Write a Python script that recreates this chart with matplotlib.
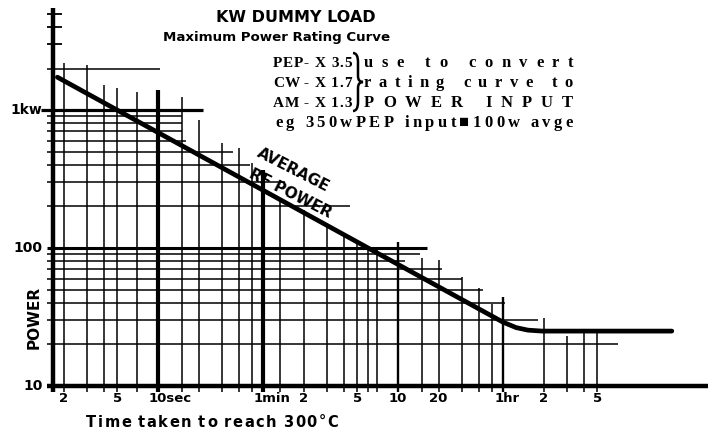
import matplotlib.pyplot as plt
import matplotlib.transforms as mtransforms
from matplotlib.font_manager import FontProperties
from matplotlib.path import Path
from matplotlib.patches import PathPatch

W, H = 708, 429

# rating curve: time to reach 300C (s) against average rf power (W)
curve_time = [1.8, 3600, 4500, 5500, 7000, 64000]
curve_power = [1730, 29, 26.5, 25.4, 25, 25]

# horizontal rulings: power level and the time where each one stops
h_power = [2000, 1000, 900, 800, 700, 600, 500, 400, 300, 200,
           100, 90, 80, 70, 60, 50, 40, 30, 20]
h_end = [10.4, 21.5, 15, 15, 15, 16, 36, 48, 87, 265,
         983, 875, 676, 1270, 1790, 2560, 3720, 6540, 25600]

# vertical rulings: time and the power where each one stops
v_time = [2, 3, 4, 5, 7, 10, 15, 20, 30, 40, 50, 60, 80, 120, 180, 240, 300,
          360, 420, 600, 900, 1200, 1800, 2400, 3000, 3600, 7200, 10800,
          14400, 18000]
v_top = [2190, 2120, 1520, 1440, 1350, 1400, 1240, 848, 577, 531, 413, 367,
         223, 188, 147, 128, 114, 102, 102, 110, 85, 82, 62, 51, 39, 44, 31,
         23, 25, 25]

heavy_v = {10: 3.0, 60: 3.0, 600: 1.7, 3600: 1.7}
heavy_h = {1000: 2.3, 100: 2.2}
axis_ticks = [3000, 4000, 5000]

x_ticks = [2, 5, 10, 60, 120, 300, 600, 1200, 3600, 7200, 18000]
x_labels = ['2', '5', '10sec', '1min', '2', '5', '10', '20', '1hr', '2', '5']
y_ticks = [10, 100, 1000]
y_labels = ['10', '100', '1kw']

factor_names = ['PEP', 'CW', 'AM']
factor_values = ['- X 3.5', '- X 1.7', '- X 1.3']
factor_notes = ['use to convert', 'rating curve to', 'POWER INPUT']
example_note = 'eg 350wPEP input\u25a0100w avge'

fig = plt.figure(figsize=(W / 100, H / 100), dpi=100)
ax = fig.add_axes([53 / W, 43 / H, 655 / W, 378 / H])
ax.set_xscale('log')
ax.set_yscale('log')
ax.set_xlim(1.67, 118600)
ax.set_ylim(10, 5490)
ax.axis('off')

# rulings
for p, t1 in zip(h_power, h_end):
    t0 = 1.35 if p == 1000 else 1.5
    ax.hlines(p, t0, t1, color='black', lw=heavy_h.get(p, 1.1), clip_on=False)
for t, p1 in zip(v_time, v_top):
    ax.vlines(t, 9.05, p1, color='black', lw=heavy_v.get(t, 1.1), clip_on=False)
for p in axis_ticks:
    ax.hlines(p, 1.5, 1.95, color='black', lw=1.3, clip_on=False)

# axes lines
ax.vlines(1.68, 9.0, 5490, color='black', lw=3.2, clip_on=False)
ax.hlines(10, 1.5, 118600, color='black', lw=3.2, clip_on=False)

# the rating curve
ax.plot(curve_time, curve_power, color='black', lw=3.4,
        solid_capstyle='round', solid_joinstyle='round')

# tick labels
bold = dict(family='DejaVu Sans', weight='bold', color='black')
xt = ax.get_xaxis_transform()
for t, lab in zip(x_ticks, x_labels):
    if lab[-1].isalpha():
        tr = mtransforms.offset_copy(xt, fig, x=-9, units='dots')
        ax.text(t, -0.032, lab, transform=tr, ha='left', va='center',
                fontsize=9.5, **bold)
    else:
        ax.text(t, -0.032, lab, transform=xt, ha='center', va='center',
                fontsize=9.5, **bold)
yt = ax.get_yaxis_transform()
for p, lab in zip(y_ticks, y_labels):
    ax.text(-0.016, p, lab, transform=yt, ha='right', va='center',
            fontsize=10, **bold)


def px(x, y):
    return x / W, 1 - y / H


SERIF = ['Liberation Serif', 'DejaVu Sans']


def spaced(x, y, s, width, size, family=SERIF, weight='bold'):
    # draw text char by char, stretched to the given pixel width
    r = fig.canvas.get_renderer()
    fp = FontProperties(family=family, size=size, weight=weight)
    ws = []
    for c in s:
        if c == ' ':
            ws.append(0.25 * size * 100 / 72)
        else:
            ws.append(r.get_text_width_height_descent(c, fp, ismath=False)[0])
    gap = max((width - sum(ws)) / max(len(s) - 1, 1), 0.8)
    for c, w in zip(s, ws):
        fig.text(*px(x, y), c, fontproperties=fp, ha='left', va='baseline')
        x += w + gap


fig.text(*px(296, 18), 'KW DUMMY LOAD', ha='center', va='center',
         fontsize=11.5, **bold)
fig.text(*px(277, 37), 'Maximum Power Rating Curve', ha='center', va='center',
         fontsize=9.6, **bold)

for i, (name, val, note) in enumerate(zip(factor_names, factor_values,
                                          factor_notes)):
    base = 67 + 20 * i
    spaced(273, base, name, 0, 11)
    spaced(304, base, val, 48, 11)
    spaced(364, base, note, 209, 12)
spaced(275, 127, example_note, 298, 12)

# brace joining the three factors
fig.patches.append(PathPatch(Path([px(353, 53), px(358, 53), px(358, 62),
                                   px(358, 76), px(358, 82), px(363, 82),
                                   px(358, 82), px(358, 88), px(358, 102),
                                   px(358, 111), px(353, 111)],
                                  [Path.MOVETO, Path.CURVE3, Path.CURVE3,
                                   Path.LINETO, Path.CURVE3, Path.CURVE3,
                                   Path.CURVE3, Path.CURVE3, Path.LINETO,
                                   Path.CURVE3, Path.CURVE3]),
                             transform=fig.transFigure, fill=False, lw=1.8,
                             edgecolor='black'))

fig.text(*px(293, 170), 'AVERAGE', rotation=-27, rotation_mode='anchor',
         ha='center', va='center', fontsize=11, **bold)
fig.text(*px(290, 194), 'RF POWER', rotation=-27, rotation_mode='anchor',
         ha='center', va='center', fontsize=11, **bold)

fig.text(*px(34, 317), 'POWER', rotation=90, ha='center', va='center',
         fontsize=11, **bold)
spaced(86, 427, 'Time taken to reach 300\u00b0C', 252, 10.5,
       family='DejaVu Sans', weight='bold')

fig.savefig('out.png', dpi=100, facecolor='white')
